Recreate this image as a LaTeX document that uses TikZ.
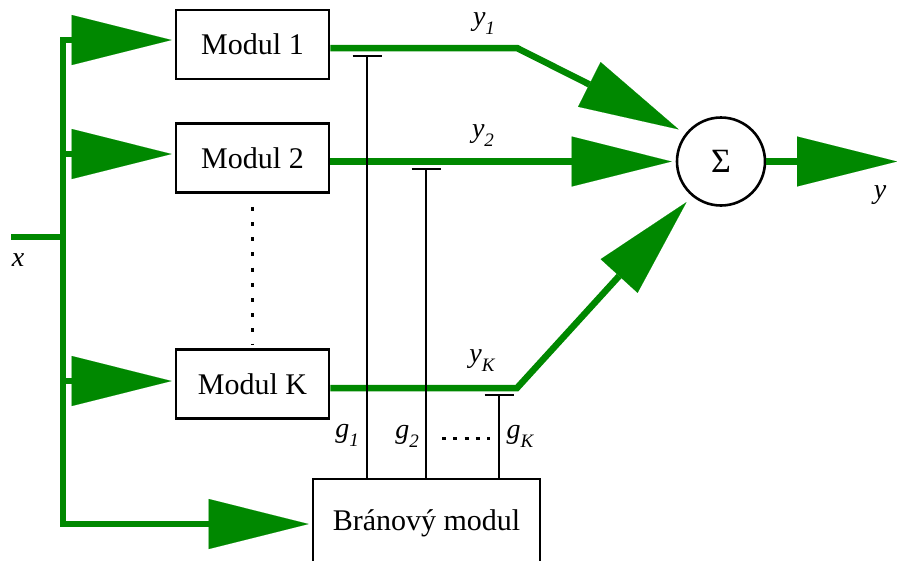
\documentclass[tikz,border=0pt]{standalone}
\usepackage{fontspec}
\setmainfont{Liberation Serif}
\usetikzlibrary{arrows.meta,calc}
\definecolor{wire}{RGB}{0,136,0}
\newcommand{\lbl}[2]{{\itshape #1\raisebox{-9pt}{\fontsize{19}{19}\selectfont #2}}}
\begin{document}
\begin{tikzpicture}[x=1pt,y=-1pt,
  box/.style={draw,line width=2.6pt,minimum width=153pt,minimum height=69pt,inner sep=0pt,font=\fontsize{30}{34}\selectfont},
  gw/.style={draw=wire,line width=6.5pt},
  ga/.style={gw,shorten >=3pt,-{Triangle[length=100pt,width=50pt,line width=0.1pt]}},
  gl/.style={line width=2.2pt,draw=black},
  lab/.style={inner sep=0pt,font=\fontsize{28}{30}\selectfont}
]
\useasboundingbox (0,0) rectangle (897,560);
% nodes
\node[box] (m1) at (252.5,44.5) {Modul 1};
\node[box] (m2) at (252.5,158) {Modul 2};
\node[box] (mK) at (252.5,384) {Modul K};
\node[box,minimum width=227pt,minimum height=88pt] (gate) at (426.5,523) {Bránový modul};
\node[draw,circle,line width=2.6pt,minimum size=88pt,inner sep=0pt,font=\fontsize{34}{34}\selectfont] (sum) at (721,161.5) {\raisebox{-5pt}{\symbol{"03A3}}};
% coordinates
\coordinate (xin) at (11,237);
\coordinate (xj) at (63,237);
\coordinate (sp1) at (63,40);
\coordinate (sp2) at (63,154);
\coordinate (spK) at (63,381);
\coordinate (spB) at (63,524);
\coordinate (b1) at (517,48);
\coordinate (bK) at (517,388);
\coordinate (yout) at (897,161.5);
\coordinate (t1) at (367,56);
\coordinate (t2) at (426,169);
\coordinate (tK) at (499,395);
\coordinate (d1) at (442,438);
\coordinate (d2) at (490,438);
% input wires
\draw[gw] (xin) -- (xj);
\draw[ga] (spB) -- (sp1) -- (sp1 -| m1.west);
\draw[ga] (sp1) -- (spB) -- (spB -| gate.west);
\draw[ga] (sp2) -- (sp2 -| m2.west);
\draw[ga] (spK) -- (spK -| mK.west);
% output wires
\draw[ga,shorten >=8pt] (m1.east |- b1) -- (b1) -- (sum.141.6);
\draw[ga,shorten >=4pt] (m2.east |- sum.west) -- (sum.west);
\draw[ga,shorten >=8pt] (mK.east |- bK) -- (bK) -- (sum.230.8);
\draw[ga,shorten >=0pt] (sum.east) -- (yout);
% gating lines
\draw[gl] (gate.north -| t1) -- (t1);
\draw[gl] ($(t1)+(-14.5,0)$) -- ($(t1)+(14.5,0)$);
\draw[gl] (gate.north -| t2) -- (t2);
\draw[gl] ($(t2)+(-14.5,0)$) -- ($(t2)+(14.5,0)$);
\draw[gl] (gate.north -| tK) -- (tK);
\draw[gl] ($(tK)+(-14.5,0)$) -- ($(tK)+(14.5,0)$);
% dots
\draw[line width=3pt,dash pattern=on 4pt off 11.2pt,shorten <=13pt,shorten >=4pt] (m2.south) -- (mK.north);
\draw[line width=3pt,dash pattern=on 4pt off 7.3pt] (d1) -- (d2);
% labels
\node[lab] (lx) at (18,260) {\itshape x};
\node[lab] (ly) at (880,195) {\itshape y};
\node[lab] (ly1) at (484,24) {\lbl{y}{1}};
\node[lab] (ly2) at (483,136) {\lbl{y}{2}};
\node[lab] (lyK) at (482,361) {\lbl{y}{K}};
\node[lab] (lg1) at (347,435) {\lbl{g}{1}};
\node[lab] (lg2) at (407,436) {\lbl{g}{2}};
\node[lab] (lgK) at (520,436) {\lbl{g}{K}};
\end{tikzpicture}
\end{document}
